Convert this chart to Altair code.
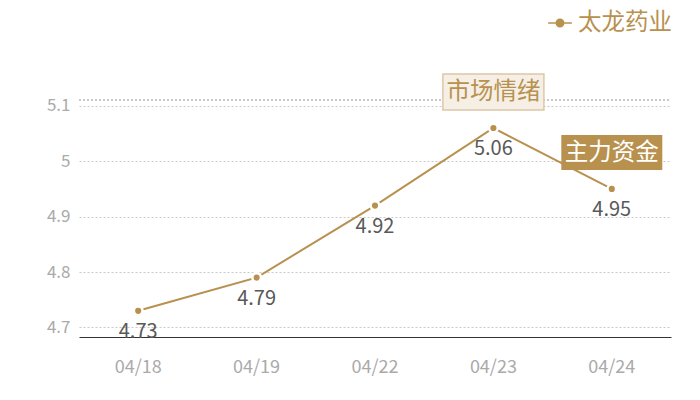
import altair as alt
import pandas as pd

dates = ["04/18", "04/19", "04/22", "04/23", "04/24"]
values = [4.73, 4.79, 4.92, 5.06, 4.95]
series = "太龙药业"

ann_dates = ["04/23", "04/24"]
ann_texts = ["市场情绪", "主力资金"]

df = pd.DataFrame({"date": dates, "value": values, "series": [series] * len(dates)})
ann1 = pd.DataFrame({"date": [ann_dates[0]], "text": [ann_texts[0]]})
ann2 = pd.DataFrame({"date": [ann_dates[1]], "text": [ann_texts[1]]})

GOLD = "#b8914f"
FONT = "Noto Sans CJK SC"

x = alt.X("date:N", sort=dates, title=None,
          scale=alt.Scale(paddingInner=0, paddingOuter=0),
          axis=alt.Axis(labelAngle=0, labelColor="#aaaaaa", labelFontSize=18,
                        labelFont=FONT, ticks=False, labelPadding=21,
                        domainColor="#333333", domainWidth=1.2, grid=False))
y = alt.Y("value:Q", title=None,
          scale=alt.Scale(domain=[4.6827, 5.1106], nice=False, zero=False),
          axis=alt.Axis(values=[4.7, 4.8, 4.9, 5.0, 5.1], labelColor="#aaaaaa",
                        labelFontSize=17, labelFont=FONT, ticks=False, domain=False,
                        labelPadding=9, gridDash=[2, 2], gridColor="#c8c8c8",
                        labelExpr="datum.value == 5 ? '5' : format(datum.value, '.1f')"))

color = alt.Color("series:N", scale=alt.Scale(range=[GOLD]),
                  legend=alt.Legend(title=None, orient="none", legendX=469, legendY=-89,
                                    symbolType="M-1,-0.06 L1,-0.06 L1,0.06 L-1,0.06 Z M0.38,0 A0.38,0.38 0 1,1 -0.38,0 A0.38,0.38 0 1,1 0.38,0 Z",
                                    symbolSize=560, symbolStrokeWidth=0,
                                    labelFontSize=23.5, labelColor=GOLD, labelFont=FONT,
                                    labelOffset=6, labelLimit=200))

base = alt.Chart(df)
line = base.mark_line(strokeWidth=2).encode(x=x, y=y, color=color)
pts = base.mark_point(filled=True, size=75, stroke="white", strokeWidth=2.5, opacity=1).encode(
    x=x, y=y, color=alt.Color("series:N", scale=alt.Scale(range=[GOLD]), legend=None))
labels = base.mark_text(dy=21, fontSize=20, color="#595959", font=FONT).encode(
    x=x, y=y, text=alt.Text("value:Q", format=".2f"))

top_rule = alt.Chart(df).mark_rule(strokeDash=[2, 2], color="#c8c8c8").encode(
    y=alt.value(0), x=alt.value(0), x2=alt.value(592))

box1 = alt.Chart(ann1).mark_rect(width=101, fill="#f5efe6", stroke="#dcc8a6", strokeWidth=1.5).encode(
    x=alt.X("date:N", sort=dates), y=alt.value(-26), y2=alt.value(10))
txt1 = alt.Chart(ann1).mark_text(fontSize=23.5, color=GOLD, font=FONT, baseline="middle").encode(
    x=alt.X("date:N", sort=dates), y=alt.value(-8), text="text:N")
box2 = alt.Chart(ann2).mark_rect(width=101, fill=GOLD).encode(
    x=alt.X("date:N", sort=dates), y=alt.value(35), y2=alt.value(70))
txt2 = alt.Chart(ann2).mark_text(fontSize=23.5, color="white", font=FONT, baseline="middle").encode(
    x=alt.X("date:N", sort=dates), y=alt.value(52.5), text="text:N")

chart = alt.layer(top_rule, line, pts, labels, box1, txt1, box2, txt2).properties(
    width=592, height=237,
    autosize=alt.AutoSizeParams(type="none"),
    padding={"left": 71, "top": 92, "right": 12, "bottom": 50},
).configure_view(stroke=None).configure_axis(gridWidth=1)

chart.save("out.html", embed_options={"renderer": "svg", "actions": False})
